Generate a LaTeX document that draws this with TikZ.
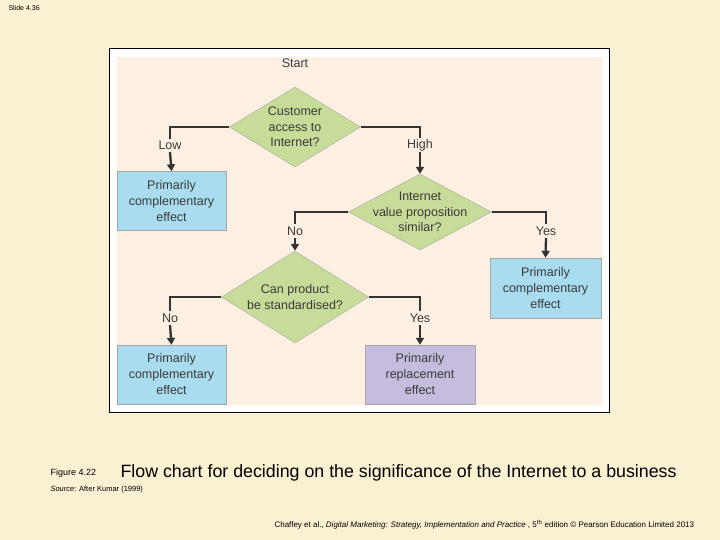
\documentclass[tikz,border=0pt]{standalone}
\usepackage{fontspec}
\setmainfont{Liberation Sans}
\usetikzlibrary{shapes.geometric,arrows.meta}
\definecolor{bg}{HTML}{FAF0D2}
\definecolor{panel}{HTML}{FDF0E3}
\definecolor{dia}{HTML}{C8DC9A}
\definecolor{blu}{HTML}{A8DCEE}
\definecolor{lav}{HTML}{C6BCDE}
\definecolor{txt}{HTML}{3A3A3A}
\begin{document}
\begin{tikzpicture}[x=1pt,y=-1pt,
  dec/.style={diamond,draw=gray!70,fill=dia,aspect=1.6,inner sep=0pt,align=center,font=\fontsize{12.5}{15.5}\selectfont,text=txt},
  box/.style={draw=gray!70,minimum width=109pt,minimum height=59pt,align=center,font=\fontsize{12.5}{16}\selectfont,text=txt},
  lab/.style={fill=panel,font=\fontsize{12.5}{14}\selectfont,text=txt,inner sep=1pt},
  ln/.style={line width=2.3pt,draw=black!80},
  ar/.style={ln,-{Triangle[length=7pt,width=8pt]}}]
\fill[bg] (0,0) rectangle (720,540);
\useasboundingbox (0,0) rectangle (720,540);
\draw[fill=white,line width=0.8pt] (109,48) rectangle (609,412);
\fill[panel] (117,57) rectangle (602,405);
\node[font=\fontsize{7}{8}\selectfont,anchor=west] (slide) at (5,8) {Slide 4.36};
\node[font=\fontsize{12.5}{14}\selectfont,text=txt] (start) at (295,63) {Start};
\node[dec,minimum width=131pt,minimum height=80pt] (d1) at (295,127) {Customer\\access to\\Internet?};
\node[dec,inner sep=-5pt,aspect=1.9,minimum width=143pt,minimum height=76pt] (d2) at (420,212) {Internet\\value proposition\\similar?};
\node[dec,minimum width=147pt,minimum height=92pt] (d3) at (295,297) {Can product\\be standardised?};
\node[box,fill=blu] (b1) at (171.5,201) {Primarily\\complementary\\effect};
\node[box,fill=blu,minimum width=111pt,minimum height=60pt] (b2) at (545.5,288) {Primarily\\complementary\\effect};
\node[box,fill=blu] (b3) at (171.5,374.5) {Primarily\\complementary\\effect};
\node[box,fill=lav,minimum width=110pt] (b4) at (420,374.5) {Primarily\\replacement\\effect};
\coordinate (c1) at (170,127); \coordinate (c2) at (420,127);
\coordinate (c3) at (295,212); \coordinate (c4) at (546,212);
\coordinate (c5) at (170,297); \coordinate (c6) at (420,297);
\draw[ln] (d1.west) -- (c1) -- (170,139);
\node[lab] (low) at (170,145) {Low};
\draw[ar] (170,152) -- (b1.north);
\draw[ln] (d1.east) -- (c2) -- (420,138);
\node[lab] (high) at (420,145) {High};
\draw[ar] (420,152) -- (d2.north);
\draw[ln] (d2.west) -- (c3) -- (295,224);
\node[lab] (no1) at (295,231) {No};
\draw[ar] (295,238) -- (d3.north);
\draw[ln] (d2.east) -- (c4) -- (546,224);
\node[lab] (yes1) at (546,231) {Yes};
\draw[ar] (546,238) -- (b2.north);
\draw[ln] (d3.west) -- (c5) -- (170,311);
\node[lab] (no2) at (170,318) {No};
\draw[ar] (170,325) -- (b3.north);
\draw[ln] (d3.east) -- (c6) -- (420,311);
\node[lab] (yes2) at (420,318) {Yes};
\draw[ar] (420,325) -- (b4.north);
\node[font=\fontsize{9}{10}\selectfont,anchor=base west] (fig) at (47,475) {Figure 4.22};
\node[font=\fontsize{17.8}{19}\selectfont,anchor=base west] (cap) at (117,477) {Flow chart for deciding on the significance of the Internet to a business};
\node[font=\fontsize{7.5}{9}\selectfont,anchor=base west] (src) at (47,491) {\textit{Source}: After Kumar (1999)};
\node[font=\fontsize{8}{9}\selectfont,anchor=base west] (foot) at (271,527) {Chaffey et al., \textit{Digital Marketing: Strategy, Implementation and Practice} , 5\textsuperscript{th} edition © Pearson Education Limited 2013};
\end{tikzpicture}
\end{document}
